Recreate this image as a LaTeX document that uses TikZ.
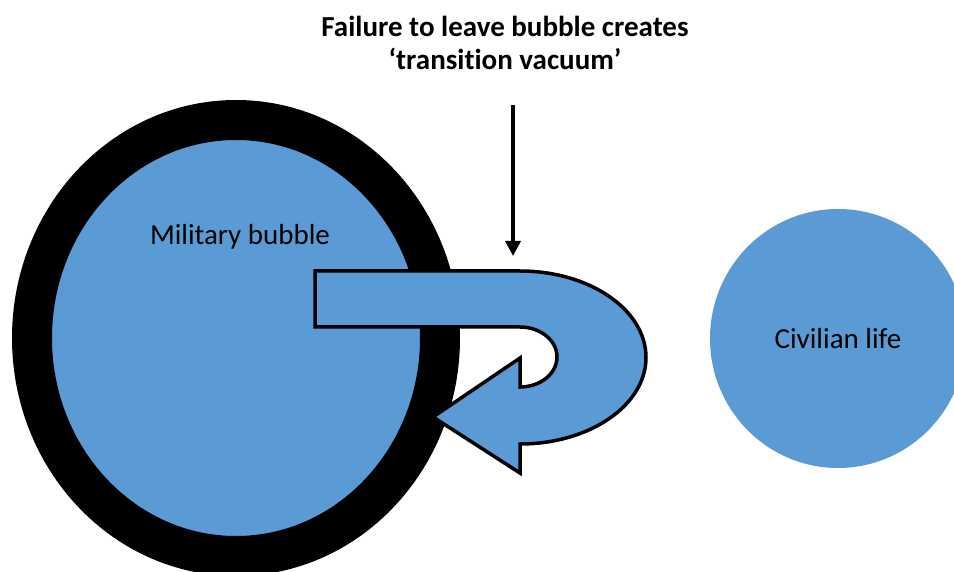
\documentclass[tikz,border=0pt]{standalone}
\usepackage{fontspec}
\setmainfont{Carlito}[Ligatures={NoCommon,NoContextual},Contextuals=NoAlternate]
\usetikzlibrary{shapes.geometric,arrows.meta,positioning}
\usepackage{xcolor}
\definecolor{Bubble}{RGB}{91,155,213}
\tikzset{
  bubble/.style={ellipse,fill=Bubble,inner sep=0pt,
                 font=\fontsize{29}{35}\selectfont},
  ringed/.style={bubble,draw=black,line width=40pt},
  uarrow/.style={fill=Bubble,draw=black,line width=3.5pt,line join=miter},
  tedge/.style={-{Triangle[length=15pt,width=15pt]},line width=3.5pt,black},
}

\begin{document}
\begin{tikzpicture}[x=1pt,y=-1pt]
  \useasboundingbox (0,0) rectangle (954,572);
  % the two worlds
  \node[ringed,minimum width=408pt,minimum height=436pt] (military) at (236,338) {};
  \node[bubble,minimum width=256pt,minimum height=259pt] (civilian) at (838,338.5) {Civilian life};
  \node[font=\fontsize{29}{35}\selectfont] (milLabel) at (240,237) {Military bubble};
  % turning back into the bubble
  \draw[uarrow] (315,271) -- (520,271)
    arc[start angle=-90,end angle=90,x radius=126,y radius=86.5]
    -- (520,473) -- (433,417) -- (520,358) -- (520,387)
    arc[start angle=90,end angle=-90,x radius=37,y radius=30]
    -- (315,327) -- cycle;
  % caption and pointer
  \node[align=center,font=\fontsize{29}{33}\selectfont\bfseries] (title) at (505,43)
    {Failure to leave bubble creates\\‘transition vacuum’};
  \coordinate (gapTop) at (513,105);
  \coordinate (gapEnd) at (513,256);
  \draw[tedge] (gapTop) -- (gapEnd);
\end{tikzpicture}
\end{document}
